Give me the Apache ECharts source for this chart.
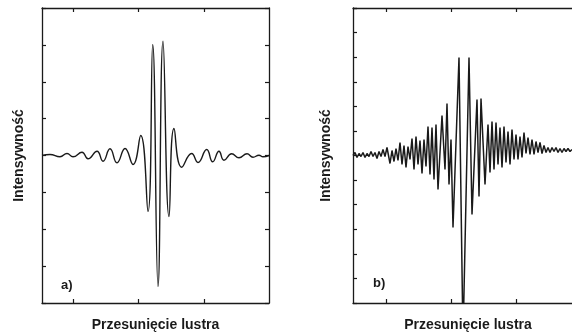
<!DOCTYPE html>
<html>
<head>
<meta charset="utf-8">
<script src="https://cdn.jsdelivr.net/npm/echarts@6/dist/echarts.min.js"></script>
<style>
  html, body { margin: 0; padding: 0; background: #fff; }
  #chart { width: 572px; height: 333px; }
</style>
</head>
<body>
<div id="chart"></div>
<script>
// Interferogram a): mirror position (samples) and detector signal
const posA = [0, 8, 18, 25, 31, 40, 46, 55, 61, 68, 75, 83, 91, 98.7, 106, 110.7, 116, 121, 127, 132,
  139.7, 149.7, 156, 164.7, 170.7, 177, 182, 189.7, 197, 205, 211, 217, 221, 227];
const sigA = [0, 1, -1.3, 2, -1.3, 3.3, -3.3, 4.3, -5.7, 6.7, -7.3, 7, -9, 20, -56, 111, -131, 114.3, -61, 27,
  -11.7, 2, -7, 6, -6.3, 4.3, -4.7, 1.7, -2.3, 1.7, -1.7, 0.3, -1.3, 0];

// Interferogram b): noisy record
const posB = [0, 2, 4, 6, 8, 10, 12, 14, 16, 18, 20, 22, 24, 26, 28, 30, 32, 34, 37, 39,
  41, 43, 45, 47, 49, 51, 53, 55, 57, 59, 61, 63, 65, 67, 69, 71, 73, 75, 77, 79,
  81, 83, 85, 89, 92, 94, 96, 98, 100, 106, 110, 116, 119, 124, 126, 128, 132, 135, 137, 139,
  141, 143, 145, 147, 149, 151, 153, 155, 157, 159, 161, 163, 165, 167, 169, 171, 173, 175, 177, 179,
  181, 183, 185, 187, 189, 191, 193, 195, 197, 199, 201, 203, 205, 207, 209, 211, 213, 215, 217, 219];
const sigB = [0, 3, -2, 2, -1, 3, -2, 2, -1, 4, -1, 3, -3, 4, -1, 6, -1, 8, -8, 5,
  -6, 7, -5, 13, -9, 10, -12, 9, -4, 17, -14, 19, -9, 15, -18, 16, -11, 29, -19, 28,
  -24, 31, -34, 40, -14, 52, -29, 16, -72, 98, -184, 98, -59, 56, -41, 57, -29, 31, -17, 34,
  -14, 33, -9, 28, -12, 29, -7, 24, -9, 26, -4, 21, -4, 19, -2, 23, 2, 18, 1, 16,
  1, 14, 3, 13, 2, 10, 3, 8, 3, 8, 4, 8, 3, 7, 3, 7, 4, 7, 4, 6];

// Tick positions along the mirror path
const ticksXA = [31, 96.5, 162];
const ticksXB = [33.7, 98.7, 163.7];

const xLabel = 'Przesunięcie lustra';
const yLabel = 'Intensywność';

const zip = (xs, ys) => xs.map((x, i) => [x, ys[i]]);

const ink = '#1a1a1a';
const font = '"Liberation Sans", Arial, sans-serif';

function xAxisPair(gridIndex, max, ticks) {
  const base = {
    type: 'value', gridIndex, min: 0, max,
    axisLine: { show: true, onZero: false, lineStyle: { color: ink, width: 1.3 } },
    axisTick: { show: true, inside: true, length: 4, customValues: ticks, lineStyle: { color: ink, width: 1.2 } },
    axisLabel: { show: false },
    splitLine: { show: false }
  };
  const bottom = Object.assign({}, base, {
    position: 'bottom',
    name: xLabel, nameLocation: 'middle', nameGap: 15,
    nameTextStyle: { fontFamily: font, fontWeight: 'bold', fontSize: 14, color: ink }
  });
  const top = Object.assign({}, base, { position: 'top' });
  return [bottom, top];
}

function yAxisPair(gridIndex, half, interval, nameGap) {
  const base = {
    type: 'value', gridIndex, min: -half, max: half, interval,
    axisLine: { show: true, onZero: false, lineStyle: { color: ink, width: 1.3 } },
    axisTick: { show: true, inside: true, length: 4, lineStyle: { color: ink, width: 1.2 } },
    axisLabel: { show: false },
    splitLine: { show: false }
  };
  const left = Object.assign({}, base, {
    position: 'left',
    name: yLabel, nameLocation: 'middle', nameRotate: 90, nameGap,
    nameTextStyle: { fontFamily: font, fontWeight: 'bold', fontSize: 14, color: ink }
  });
  const right = Object.assign({}, base, { position: 'right' });
  return [left, right];
}

const chart = echarts.init(document.getElementById('chart'), null, { renderer: 'canvas' });

const xa = xAxisPair(0, 227, ticksXA);
const xb = xAxisPair(1, 230, ticksXB);
const ya = yAxisPair(0, 147.5, 36.875, 16);
const yb = yAxisPair(1, 147.5, 147.5 / 6, 20);

chart.setOption({
  animation: false,
  backgroundColor: '#fff',
  grid: [
    { left: 42, top: 8, width: 227, height: 295, outerBoundsMode: 'none', containLabel: false },
    { left: 353, top: 8, width: 230, height: 295, outerBoundsMode: 'none', containLabel: false }
  ],
  xAxis: [xa[0], xa[1], xb[0], xb[1]],
  yAxis: [ya[0], ya[1], yb[0], yb[1]],
  series: [
    {
      type: 'line', xAxisIndex: 0, yAxisIndex: 0,
      data: zip(posA, sigA), smooth: 0.5, symbol: 'none', clip: true,
      lineStyle: { color: ink, width: 1.4 }
    },
    {
      type: 'line', xAxisIndex: 2, yAxisIndex: 2,
      data: zip(posB, sigB), smooth: false, symbol: 'none', clip: true,
      lineStyle: { color: ink, width: 1.5 }
    }
  ],
  graphic: [
    { type: 'text', left: 61, top: 279, style: { text: 'a)', fontFamily: font, fontWeight: 'bold', fontSize: 13, fill: ink } },
    { type: 'text', left: 373, top: 277, style: { text: 'b)', fontFamily: font, fontWeight: 'bold', fontSize: 13, fill: ink } }
  ]
});
</script>
</body>
</html>
